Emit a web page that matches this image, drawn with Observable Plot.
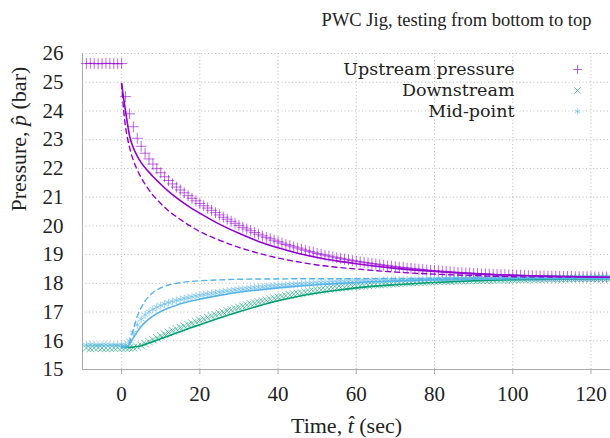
<!DOCTYPE html>
<html><head><meta charset="utf-8">
<script src="https://cdn.jsdelivr.net/npm/d3@7"></script>
<script src="https://cdn.jsdelivr.net/npm/@observablehq/plot@0.6"></script>
<style>html,body{margin:0;padding:0;background:#fff}svg{display:block}
svg, svg text {font-family: "Liberation Serif", "Times New Roman", serif;}
svg g.legend-text text {font-family: "DejaVu Serif", serif;}</style>
</head><body><div id="chart"></div>
<script>
const titleText = "PWC Jig, testing from bottom to top";
const xLabel = "Time, t\u0302 (sec)";
const yLabel = "Pressure, p\u0302 (bar)";
const legendLabels = ["Upstream pressure", "Downstream", "Mid-point"];
const xTicks = [0, 20, 40, 60, 80, 100, 120];
const yTicks = [15, 16, 17, 18, 19, 20, 21, 22, 23, 24, 25, 26];

// measured samples (1 s)
const sampleTimes = [
 -9,-8,-7,-6,-5,-4,-3,-2,-1,0,
 1,2,3,4,5,6,7,8,9,10, 11,12,13,14,15,16,17,18,19,20,
 21,22,23,24,25,26,27,28,29,30, 31,32,33,34,35,36,37,38,39,40,
 41,42,43,44,45,46,47,48,49,50, 51,52,53,54,55,56,57,58,59,60,
 61,62,63,64,65,66,67,68,69,70, 71,72,73,74,75,76,77,78,79,80,
 81,82,83,84,85,86,87,88,89,90, 91,92,93,94,95,96,97,98,99,100,
 101,102,103,104,105,106,107,108,109,110, 111,112,113,114,115,116,117,118,119,120,
 121,122,123,124,125];
const upstreamMeasured = [
 25.65,25.66,25.65,25.64,25.65,25.66,25.65,25.65,25.64,25.65,
 24.5,23.9,23.45,23.05,22.77,22.53,22.33,22.15,21.99,21.85,
 21.71,21.58,21.46,21.35,21.25,21.15,21.05,20.96,20.87,20.78,
 20.7,20.62,20.54,20.46,20.38,20.3,20.23,20.16,20.09,20.02,
 19.95,19.89,19.83,19.77,19.71,19.65,19.6,19.55,19.5,19.45,
 19.4,19.35,19.31,19.27,19.23,19.19,19.15,19.11,19.08,19.04,
 19.01,18.98,18.95,18.92,18.89,18.87,18.84,18.82,18.79,18.77,
 18.75,18.73,18.71,18.69,18.67,18.65,18.63,18.61,18.6,18.58,
 18.56,18.55,18.53,18.52,18.5,18.49,18.48,18.46,18.45,18.44,
 18.43,18.42,18.41,18.4,18.39,18.38,18.37,18.36,18.36,18.35,
 18.34,18.33,18.33,18.32,18.31,18.31,18.3,18.3,18.29,18.29,
 18.28,18.28,18.27,18.27,18.27,18.26,18.26,18.26,18.25,18.25,
 18.25,18.24,18.24,18.24,18.24,18.23,18.23,18.23,18.23,18.23,
 18.22,18.22,18.22,18.22,18.22];
const downstreamMeasured = [
 15.75,15.74,15.75,15.76,15.75,15.74,15.75,15.75,15.76,15.75,
 15.75,15.75,15.76,15.79,15.84,15.9,15.97,16.04,16.1,16.17,
 16.23,16.29,16.35,16.41,16.46,16.51,16.56,16.61,16.66,16.71,
 16.76,16.81,16.86,16.9,16.95,16.99,17.04,17.08,17.12,17.16,
 17.2,17.24,17.28,17.31,17.35,17.38,17.41,17.45,17.48,17.51,
 17.54,17.57,17.59,17.62,17.64,17.66,17.69,17.71,17.73,17.75,
 17.77,17.78,17.8,17.82,17.83,17.85,17.86,17.88,17.89,17.9,
 17.91,17.92,17.94,17.95,17.96,17.97,17.97,17.98,17.99,18.0,
 18.01,18.02,18.02,18.03,18.04,18.04,18.05,18.05,18.06,18.07,
 18.07,18.08,18.08,18.08,18.09,18.09,18.1,18.1,18.1,18.11,
 18.11,18.11,18.12,18.12,18.12,18.13,18.13,18.13,18.13,18.14,
 18.14,18.14,18.14,18.15,18.15,18.15,18.15,18.15,18.16,18.16,
 18.16,18.16,18.16,18.16,18.17,18.17,18.17,18.17,18.17,18.17,
 18.17,18.18,18.18,18.18,18.18];
const midpointMeasured = [
 15.85,15.86,15.85,15.84,15.85,15.86,15.85,15.84,15.85,15.85,
 15.86,16.0,16.28,16.55,16.75,16.9,17.01,17.1,17.17,17.23,
 17.28,17.33,17.37,17.41,17.44,17.47,17.5,17.53,17.56,17.58,
 17.61,17.63,17.65,17.67,17.69,17.71,17.73,17.75,17.77,17.79,
 17.8,17.82,17.83,17.85,17.86,17.87,17.89,17.9,17.91,17.92,
 17.93,17.94,17.95,17.96,17.97,17.98,17.99,17.99,18.0,18.01,
 18.02,18.02,18.03,18.04,18.04,18.05,18.05,18.06,18.06,18.07,
 18.07,18.08,18.08,18.09,18.09,18.1,18.1,18.1,18.11,18.11,
 18.11,18.12,18.12,18.12,18.13,18.13,18.13,18.14,18.14,18.14,
 18.15,18.15,18.15,18.15,18.16,18.16,18.16,18.16,18.16,18.17,
 18.17,18.17,18.17,18.17,18.18,18.18,18.18,18.18,18.18,18.18,
 18.18,18.19,18.19,18.19,18.19,18.19,18.19,18.19,18.19,18.19,
 18.19,18.2,18.2,18.2,18.2,18.2,18.2,18.2,18.2,18.2,
 18.2,18.2,18.2,18.2,18.2];

// model curves
const modelTimes = [0,0.5,1,1.5,2,3,4,5,6,7,8,10,12,14,16,18,20,25,30,35,40,45,50,55,60,70,80,90,100,110,125];
const upstreamModel = [24.95,24.45,24.0,23.55,23.15,22.72,22.43,22.2,22.02,21.87,21.72,21.45,21.2,20.98,20.78,20.6,20.44,20.06,19.74,19.46,19.24,19.05,18.9,18.78,18.68,18.52,18.41,18.33,18.28,18.24,18.21];
const upstreamModelAlt = [24.95,24.05,23.45,23.05,22.75,22.28,21.95,21.68,21.45,21.25,21.07,20.78,20.52,20.32,20.13,19.96,19.8,19.5,19.25,19.05,18.88,18.75,18.64,18.56,18.5,18.39,18.32,18.27,18.23,18.21,18.2];
const downstreamModel = [15.77,15.77,15.77,15.77,15.77,15.78,15.8,15.83,15.87,15.92,15.97,16.07,16.17,16.27,16.37,16.47,16.56,16.79,17.01,17.21,17.39,17.54,17.66,17.76,17.84,17.95,18.03,18.09,18.13,18.15,18.17];
const midpointModel = [15.78,15.78,15.78,15.8,15.88,16.1,16.32,16.5,16.64,16.76,16.86,17.02,17.14,17.24,17.32,17.39,17.45,17.58,17.69,17.77,17.84,17.9,17.95,17.99,18.03,18.08,18.12,18.14,18.16,18.17,18.18];
const midpointModelAlt = [15.8,15.8,15.8,15.82,15.95,16.4,16.85,17.15,17.38,17.55,17.68,17.84,17.94,18.0,18.04,18.07,18.09,18.12,18.14,18.15,18.15,18.16,18.16,18.16,18.16,18.17,18.17,18.17,18.17,18.17,18.17];

const PURPLE = "#9400d3", GREEN = "#009e73", BLUE = "#56b4e9";

const pts = arr => sampleTimes.map((t, i) => ({t, p: arr[i]}));
const crv = arr => modelTimes.map((t, i) => ({t, p: arr[i]}));

const markerOpts = {strokeWidth: 1, strokeOpacity: 0.6, r: 3.6};
const gridOpts = {stroke: "#aaa", strokeOpacity: 0.8, strokeWidth: 1, strokeDasharray: "1,2.5"};

const chart = Plot.plot({
  width: 610, height: 438,
  marginTop: 53, marginBottom: 69, marginLeft: 82, marginRight: 0,
  style: {background: "#fff", overflow: "visible"},
  x: {domain: [-10, 125]},
  y: {domain: [15, 26]},
  marks: [
    Plot.gridX(xTicks, gridOpts),
    Plot.gridY(yTicks, gridOpts),
    Plot.frame({anchor: "left", stroke: "#aaa"}),
    Plot.frame({anchor: "bottom", stroke: "#aaa"}),
    Plot.axisX(xTicks, {tickSize: 5, stroke: "#aaa", tickPadding: 12, fontSize: 21, label: null, fill: "#222"}),
    Plot.axisY(yTicks, {tickSize: 0, tickPadding: 19, fontSize: 21, label: null, fill: "#222"}),
    Plot.dot(pts(upstreamMeasured), {x: "t", y: "p", symbol: "plus", stroke: PURPLE, ...markerOpts}),
    Plot.dot(pts(downstreamMeasured), {x: "t", y: "p", symbol: "times", stroke: GREEN, ...markerOpts}),
    Plot.dot(pts(midpointMeasured), {x: "t", y: "p", symbol: "asterisk", stroke: BLUE, ...markerOpts}),
    Plot.line(crv(upstreamModelAlt), {x: "t", y: "p", stroke: PURPLE, strokeWidth: 1.4, strokeDasharray: "5,4", curve: "monotone-x"}),
    Plot.line(crv(midpointModelAlt), {x: "t", y: "p", stroke: BLUE, strokeWidth: 1.4, strokeDasharray: "5,4", curve: "monotone-x"}),
    Plot.line(crv(downstreamModel), {x: "t", y: "p", stroke: GREEN, strokeWidth: 1.6, curve: "monotone-x"}),
    Plot.line(crv(midpointModel), {x: "t", y: "p", stroke: BLUE, strokeWidth: 1.6, curve: "monotone-x"}),
    Plot.line(crv(upstreamModel), {x: "t", y: "p", stroke: PURPLE, strokeWidth: 1.6, curve: "monotone-x"}),
    // title
    Plot.text([titleText], {frameAnchor: "top", lineAnchor: "middle", dx: 110, dy: -33, fontSize: 18.5, fill: "#222"}),
    // axis labels
    Plot.text([xLabel], {frameAnchor: "bottom", lineAnchor: "middle", dy: 56, fontSize: 22, fill: "#222"}),
    Plot.text([yLabel], {frameAnchor: "left", lineAnchor: "middle", dx: -64, rotate: -90, fontSize: 22, fill: "#222"}),
    // legend
    ...legendLabels.map((lab, i) =>
      Plot.text([lab], {frameAnchor: "top-right", lineAnchor: "middle", textAnchor: "end", dx: -96, dy: 16 + 21 * i, fontSize: 17.5, fill: "#222", className: "legend-text"})),
    ...[["plus", PURPLE], ["times", GREEN], ["asterisk", BLUE]].map(([sym, col], i) =>
      Plot.dot([0], {frameAnchor: "top-right", dx: -33, dy: 16 + 21 * i, symbol: sym, stroke: col, fill: "none", strokeWidth: 1, strokeOpacity: 0.6, r: 3}))
  ]
});

// italic hatted symbols in axis labels
d3.select(chart).selectAll("text").each(function() {
  const el = d3.select(this);
  const s = el.text();
  const i = s.indexOf("\u0302");
  if (i > 0 && el.selectAll("tspan").empty()) {
    el.text(null);
    el.append("tspan").text(s.slice(0, i - 1));
    el.append("tspan").attr("font-style", "italic").text(s.slice(i - 1, i + 1));
    el.append("tspan").text(s.slice(i + 1));
  }
});

document.getElementById("chart").appendChild(chart);
</script>
</body></html>
